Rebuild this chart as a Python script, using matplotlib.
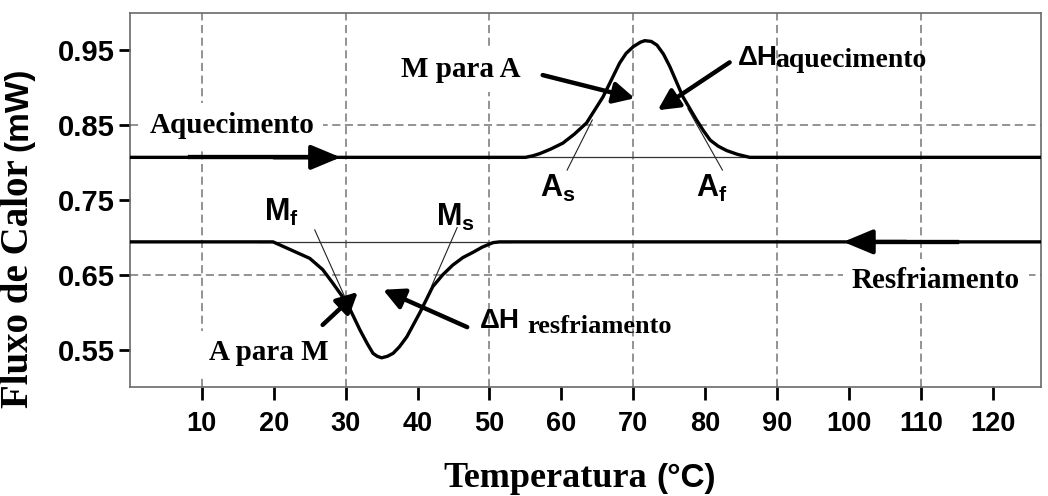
import matplotlib
matplotlib.use("Agg")
import matplotlib.pyplot as plt

SERIF = "Liberation Serif"
SANS = "Liberation Sans"

plt.rcParams.update({
    "font.family": SANS,
    "font.weight": "bold",
    "mathtext.fontset": "custom",
    "mathtext.rm": "Liberation Sans:bold",
    "mathtext.bf": "Liberation Sans:bold",
    "mathtext.it": "Liberation Sans:bold",
})

# DSC curves (temperature in degC, heat flow in mW)
heat_temp = [0, 55.0, 56.0, 57.0, 58.5, 60.2, 61.8, 63.5, 65.8, 68.1, 69.0,
             70.0, 71.0, 71.6, 72.5, 73.3, 74.2, 75.1, 76.9, 78.8, 79.8,
             80.7, 81.8, 83.0, 84.5, 86.2, 126.7]
heat_flow = [0.807, 0.807, 0.809, 0.812, 0.818, 0.826, 0.838, 0.853, 0.888,
             0.933, 0.946, 0.955, 0.961, 0.963, 0.962, 0.957, 0.945, 0.928,
             0.888, 0.857, 0.842, 0.830, 0.822, 0.816, 0.811, 0.807, 0.807]

cool_temp = [0, 19.9, 25.0, 26.8, 28.2, 30.2, 32.0, 33.0, 33.8, 34.4, 35.0,
             35.8, 36.6, 37.5, 38.5, 40.3, 42.1, 43.5, 44.9, 46.3, 47.7,
             49.0, 50.5, 51.4, 126.7]
cool_flow = [0.694, 0.694, 0.672, 0.657, 0.639, 0.612, 0.576, 0.558, 0.545,
             0.541, 0.539, 0.541, 0.545, 0.554, 0.567, 0.599, 0.634, 0.650,
             0.663, 0.673, 0.680, 0.687, 0.693, 0.694, 0.694]

# baseline under each transition
heat_base_temp = [54.0, 88.0]
cool_base_temp = [18.0, 53.0]

# tangent construction lines (temp, flow)
tan_as = ([60.8, 64.3], [0.790, 0.857])
tan_af = ([82.4, 77.6], [0.790, 0.872])
tan_mf = ([25.7, 30.6], [0.710, 0.605])
tan_ms = ([45.5, 42.0], [0.713, 0.636])

x_ticks = [10, 20, 30, 40, 50, 60, 70, 80, 90, 100, 110, 120]
y_ticks = [0.55, 0.65, 0.75, 0.85, 0.95]
grid_x = [10, 30, 50, 70, 90, 110]
grid_y = [0.65, 0.85]

fig = plt.figure(figsize=(10.48, 4.96), dpi=100)
ax = fig.add_axes([0.124, 0.2198, 0.8693, 0.754])
ax.set_xlim(0, 126.7)
ax.set_ylim(0.5, 1.0)

grid_kw = dict(color="#8a8a8a", lw=1.3, dashes=(4.5, 2.5), zorder=1)
for gx in grid_x:
    ax.axvline(gx, **grid_kw)
for gy in grid_y:
    ax.axhline(gy, **grid_kw)

# thin baselines and tangents
ax.plot(heat_base_temp, [heat_flow[0]] * 2, color="#333333", lw=0.9, zorder=3)
ax.plot(cool_base_temp, [cool_flow[0]] * 2, color="#333333", lw=0.9, zorder=3)
for tx, ty in (tan_as, tan_af, tan_mf, tan_ms):
    ax.plot(tx, ty, color="#222222", lw=0.8, zorder=3)

# curves
ax.plot(heat_temp, heat_flow, color="black", lw=2.4, zorder=4,
        solid_joinstyle="round")
ax.plot(cool_temp, cool_flow, color="black", lw=2.4, zorder=4,
        solid_joinstyle="round")
ax.plot([8.3, 26], [heat_flow[0]] * 2, color="black", lw=3.1, zorder=4)
ax.plot([101, 115], [cool_flow[0]] * 2, color="black", lw=3.1, zorder=4)

# direction arrows on the baselines
dir_style = "-|>,head_length=0.72,head_width=0.3"
ax.annotate("", xy=(29.3, heat_flow[0]), xytext=(20, heat_flow[0]),
            arrowprops=dict(arrowstyle=dir_style, color="black", lw=3,
                            mutation_scale=25, shrinkA=0, shrinkB=0), zorder=5)
ax.annotate("", xy=(99.2, cool_flow[0]), xytext=(108, cool_flow[0]),
            arrowprops=dict(arrowstyle=dir_style, color="black", lw=3,
                            mutation_scale=25, shrinkA=0, shrinkB=0), zorder=5)

# pointer arrows
ptr_style = "-|>,head_length=0.55,head_width=0.28"
pointers = [
    ((70.2, 0.886), (57.4, 0.917)),
    ((73.4, 0.870), (83.4, 0.934)),
    ((31.7, 0.627), (26.8, 0.583)),
    ((35.2, 0.630), (46.9, 0.580)),
]
for tip, tail in pointers:
    ax.annotate("", xy=tip, xytext=tail,
                arrowprops=dict(arrowstyle=ptr_style, color="black", lw=3.2,
                                mutation_scale=23, shrinkA=0, shrinkB=0),
                zorder=6)

# boxed serif labels
box = dict(facecolor="white", edgecolor="none", pad=6)
for txt, x, y in [("Aquecimento", 14.2, 0.840), ("M para A", 46.0, 0.914),
                  ("A para M", 19.3, 0.536), ("Resfriamento", 112.1, 0.632)]:
    ax.text(x, y, txt, family=SERIF, fontsize=21, fontweight="bold",
            ha="center", va="baseline", bbox=box, zorder=2)

# enthalpy labels
ax.text(84.6, 0.930, "\u0394H", family=SANS, fontsize=20, fontweight="bold",
        ha="left", va="baseline", zorder=7)
ax.text(89.7, 0.928, "aquecimento", family=SERIF, fontsize=20,
        fontweight="bold", ha="left", va="baseline", zorder=7)
ax.text(48.7, 0.579, "\u0394H", family=SANS, fontsize=20, fontweight="bold",
        ha="left", va="baseline", zorder=7)
ax.text(55.2, 0.572, "resfriamento", family=SERIF, fontsize=19,
        fontweight="bold", ha="left", va="baseline", zorder=7)

# transformation temperatures
for txt, x, y in [(r"$\mathbf{M_f}$", 21.1, 0.734), (r"$\mathbf{M_s}$", 45.2, 0.726),
                  (r"$\mathbf{A_s}$", 59.5, 0.766), (r"$\mathbf{A_f}$", 80.9, 0.766)]:
    ax.text(x, y, txt, fontsize=22, ha="center", va="center", zorder=7)

# axes styling
for sp in ax.spines.values():
    sp.set_color("#6a6a6a")
    sp.set_linewidth(1.2)
ax.set_xticks(x_ticks)
ax.set_yticks(y_ticks)
ax.set_xticklabels([str(t) for t in x_ticks])
ax.set_yticklabels([f"{t:.2f}" for t in y_ticks])
ax.tick_params(axis="x", length=9, width=2, pad=8, labelsize=19.5,
               color="black")
ax.tick_params(axis="y", length=8, width=2, pad=3, labelsize=21,
               color="black")

# axis titles (mixed serif / sans)
fig.text(443 / 1048, 1 - 487 / 496, "Temperatura", family=SERIF, fontsize=26,
         fontweight="bold", ha="left", va="baseline")
fig.text(656 / 1048, 1 - 487 / 496, "(\u00b0C)", family=SANS, fontsize=24,
         fontweight="bold", ha="left", va="baseline")
fig.text(19 / 1048, 1 - 284 / 496, "Fluxo de Calor", family=SERIF,
         fontsize=28, fontweight="bold", rotation=90, ha="center",
         va="center")
fig.text(19 / 1048, 1 - 109 / 496, "(mW)", family=SANS, fontsize=24,
         fontweight="bold", rotation=90, ha="center", va="center")

fig.savefig("out.png", dpi=100)
